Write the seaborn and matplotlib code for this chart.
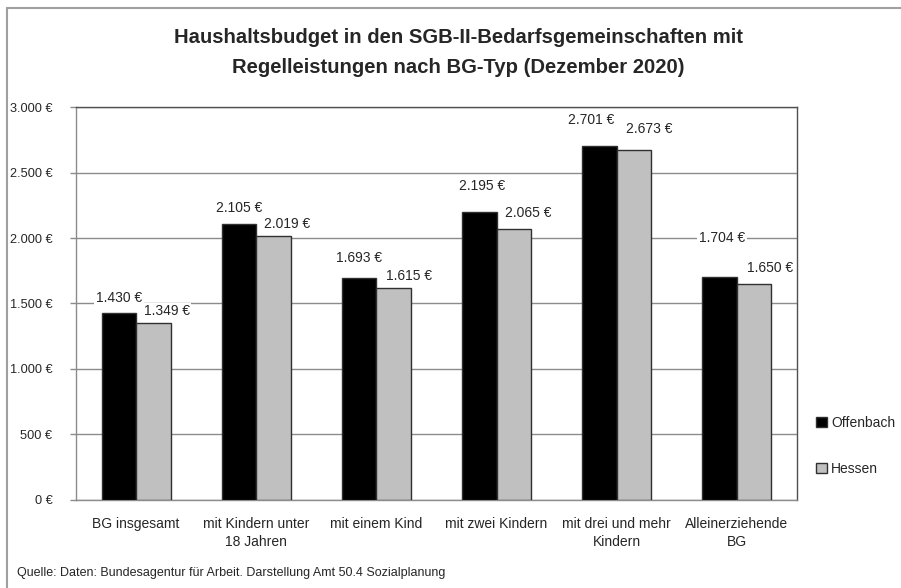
import matplotlib
matplotlib.use('Agg')
import matplotlib.pyplot as plt
import matplotlib.patches as mpatches
import matplotlib.lines as mlines
import pandas as pd
import seaborn as sns

# Daten
kategorien = ['BG insgesamt', 'mit Kindern unter\n18 Jahren', 'mit einem Kind',
              'mit zwei Kindern', 'mit drei und mehr\nKindern', 'Alleinerziehende\nBG']
offenbach = [1430, 2105, 1693, 2195, 2701, 1704]
hessen = [1349, 2019, 1615, 2065, 2673, 1650]
serien = ['Offenbach', 'Hessen']
farben = ['#000000', '#c0c0c0']

# Verschiebung der Wertebeschriftungen (Punkte), wie im Original von Hand gesetzt
label_dx = [[0, 0, 0, 2, -6, 1.5], [9.5, 10, 11, 10, 11, 11.5]]
label_dy = [[10.8, 11.5, 14.4, 19.4, 18.7, 28.1], [8.6, 8.6, 8.6, 12.2, 15.1, 11.5]]

sns.set_theme(style='white')
plt.rcParams['font.family'] = ['Liberation Sans', 'DejaVu Sans']

df = pd.DataFrame({
    'Kategorie': kategorien * 2,
    'Wert': offenbach + hessen,
    'Gebiet': ['Offenbach'] * len(kategorien) + ['Hessen'] * len(kategorien),
})


def euro(v):
    return f'{v:,.0f} €'.replace(',', '.')


fig = plt.figure(figsize=(9.01, 5.88), dpi=100)
ax = fig.add_axes([0.0844, 0.1497, 0.8002, 0.6683])

sns.barplot(data=df, x='Kategorie', y='Wert', hue='Gebiet', hue_order=serien,
            palette=farben, width=0.575, edgecolor='#303030', linewidth=1.0,
            ax=ax, legend=False, zorder=3)

ax.set_ylim(0, 3000)
ax.set_xlim(-0.5, len(kategorien) - 0.5)
ax.set_yticks(range(0, 3001, 500))
ax.set_yticklabels([euro(v) for v in range(0, 3001, 500)], fontsize=9.2)
ax.yaxis.grid(True, color='#8c8c8c', linewidth=1.0, zorder=0)
ax.set_axisbelow(True)
ax.tick_params(axis='y', length=4, width=1, color='#8c8c8c', left=True, pad=13)
ax.tick_params(axis='x', length=0, pad=12, labelsize=10)
for t in ax.get_xticklabels():
    t.set_linespacing(1.4)
ax.set_xlabel('')
ax.set_ylabel('')
for s in ax.spines.values():
    s.set_color('#505050')
    s.set_linewidth(1.0)
ax.spines['left'].set_color('#8c8c8c')
ax.spines['bottom'].set_color('#8c8c8c')

# Beschriftungen über den Balken
for k, (cont, werte) in enumerate(zip(ax.containers, [offenbach, hessen])):
    for i, (bar, v) in enumerate(zip(cont, werte)):
        ax.annotate(euro(v), (bar.get_x() + bar.get_width() / 2, bar.get_height()),
                    xytext=(label_dx[k][i], label_dy[k][i]), textcoords='offset points',
                    ha='center', va='center', fontsize=10, zorder=5,
                    bbox=dict(boxstyle='square,pad=0.12', fc='white', ec='none'))

fig.text(0.509, 0.937, 'Haushaltsbudget in den SGB-II-Bedarfsgemeinschaften mit',
         ha='center', va='center', fontsize=14.6, fontweight='bold')
fig.text(0.509, 0.886, 'Regelleistungen nach BG-Typ (Dezember 2020)',
         ha='center', va='center', fontsize=14.6, fontweight='bold')

handles = [mpatches.Patch(facecolor=f, edgecolor='#303030', label=s) for f, s in zip(farben, serien)]
fig.legend(handles=handles, loc='center left', bbox_to_anchor=(0.906, 0.242),
           frameon=False, fontsize=10, handlelength=0.8, handleheight=0.8,
           handletextpad=0.25, labelspacing=2.3, borderpad=0, borderaxespad=0)

fig.text(0.019, 0.026, 'Quelle: Daten: Bundesagentur für Arbeit. Darstellung Amt 50.4 Sozialplanung',
         ha='left', va='center', fontsize=9)

# Rahmen links und oben
fig.add_artist(mlines.Line2D([0.008, 0.008], [0.0, 0.986], color='#a0a0a0', linewidth=1.5))
fig.add_artist(mlines.Line2D([0.008, 1.0], [0.986, 0.986], color='#a0a0a0', linewidth=1.5))

fig.savefig('out.png', dpi=100)
